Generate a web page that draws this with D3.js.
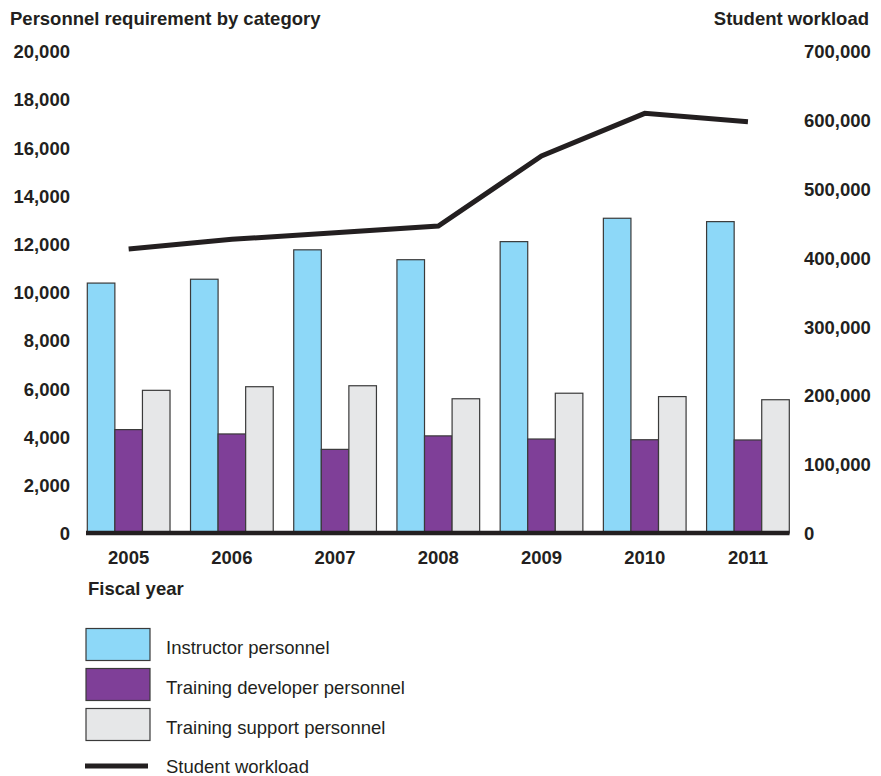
<!DOCTYPE html>
<html>
<head>
<meta charset="utf-8">
<script src="https://cdn.jsdelivr.net/npm/d3@7"></script>
<style>
  html, body { margin: 0; padding: 0; background: #fff; }
  svg { display: block; font-family: "Liberation Sans", Arial, sans-serif; }
</style>
</head>
<body>
<svg id="chart" width="881" height="776"></svg>
<script>
const years = ["2005", "2006", "2007", "2008", "2009", "2010", "2011"];
const instructor = [10370, 10530, 11750, 11340, 12090, 13060, 12920];
const developer  = [4290, 4110, 3470, 4030, 3900, 3870, 3860];
const support    = [5920, 6070, 6110, 5570, 5800, 5660, 5530];
const workload   = [412500, 426500, 436000, 445800, 547500, 609500, 597300];
const leftTicks  = [0, 2000, 4000, 6000, 8000, 10000, 12000, 14000, 16000, 18000, 20000];
const rightTicks = [0, 100000, 200000, 300000, 400000, 500000, 600000, 700000];
const seriesNames = ["Instructor personnel", "Training developer personnel", "Training support personnel"];
const seriesColors = ["#8dd8f8", "#7f3f98", "#e6e7e8"];
const lineName = "Student workload";

const svg = d3.select("#chart");
const fs = "18.5px";
const ink = "#231f20";

const x = d3.scaleBand().domain(years).range([87.3, 789.3]).paddingInner(0.1986).paddingOuter(0);
const sub = d3.scaleBand().domain([0, 1, 2]).range([0, x.bandwidth()]);
const yL = d3.scaleLinear().domain([0, 20000]).range([533, 51]);
const yR = d3.scaleLinear().domain([0, 700000]).range([533, 51]);

// Titles
svg.append("text").attr("x", 10).attr("y", 25).attr("font-size", fs).attr("font-weight", "bold")
  .attr("fill", ink).text("Personnel requirement by category");
svg.append("text").attr("x", 869).attr("y", 25).attr("font-size", fs).attr("font-weight", "bold")
  .attr("fill", ink).attr("text-anchor", "end").text("Student workload");

// Left axis
const axL = d3.axisLeft(yL).tickValues(leftTicks).tickSize(0).tickPadding(0).tickFormat(d3.format(","));
const gL = svg.append("g").attr("transform", "translate(70,0)").call(axL);
gL.select(".domain").remove();
gL.selectAll("text").attr("font-size", fs).attr("font-weight", "bold").attr("fill", ink)
  .attr("font-family", "Liberation Sans, Arial, sans-serif").attr("dy", "0.36em");

// Right axis
const axR = d3.axisRight(yR).tickValues(rightTicks).tickSize(0).tickPadding(0).tickFormat(d3.format(","));
const gR = svg.append("g").attr("transform", "translate(804,0)").call(axR);
gR.select(".domain").remove();
gR.selectAll("text").attr("font-size", fs).attr("font-weight", "bold").attr("fill", ink)
  .attr("font-family", "Liberation Sans, Arial, sans-serif").attr("dy", "0.36em");

// Bars
const series = [instructor, developer, support];
const groups = svg.append("g").selectAll("g").data(years).join("g")
  .attr("transform", d => `translate(${x(d)},0)`);
groups.selectAll("rect").data((d, i) => series.map((s, k) => ({k, v: s[i]}))).join("rect")
  .attr("x", d => sub(d.k))
  .attr("width", sub.bandwidth())
  .attr("y", d => yL(d.v))
  .attr("height", d => yL(0) - yL(d.v))
  .attr("fill", d => seriesColors[d.k])
  .attr("stroke", "#3a3a3a")
  .attr("stroke-width", 1.2);

// Baseline
svg.append("line").attr("x1", 86).attr("x2", 789.5).attr("y1", 533).attr("y2", 533)
  .attr("stroke", ink).attr("stroke-width", 4.6);

// Year labels
const axX = d3.axisBottom(x).tickSize(0).tickPadding(0);
const gX = svg.append("g").attr("transform", "translate(0,550)").call(axX);
gX.select(".domain").remove();
gX.selectAll("text").attr("font-size", fs).attr("font-weight", "bold").attr("fill", ink)
  .attr("font-family", "Liberation Sans, Arial, sans-serif").attr("dy", "0.75em");

svg.append("text").attr("x", 88).attr("y", 595).attr("font-size", fs).attr("font-weight", "bold")
  .attr("fill", ink).text("Fiscal year");

// Workload line
const line = d3.line().x((d, i) => x(years[i]) + x.bandwidth() / 2).y(d => yR(d));
svg.append("path").datum(workload).attr("d", line).attr("fill", "none")
  .attr("stroke", ink).attr("stroke-width", 5).attr("stroke-linejoin", "miter");

// Legend
const legY = [628.5, 668.5, 708.5];
seriesNames.forEach((n, i) => {
  svg.append("rect").attr("x", 86).attr("y", legY[i]).attr("width", 64).attr("height", 32)
    .attr("fill", seriesColors[i]).attr("stroke", "#3a3a3a").attr("stroke-width", 1.2);
  svg.append("text").attr("x", 166).attr("y", legY[i] + 25).attr("font-size", fs)
    .attr("fill", ink).text(n);
});
svg.append("line").attr("x1", 85).attr("x2", 148).attr("y1", 766).attr("y2", 766)
  .attr("stroke", ink).attr("stroke-width", 5);
svg.append("text").attr("x", 166).attr("y", 773).attr("font-size", fs).attr("fill", ink).text(lineName);
</script>
</body>
</html>
